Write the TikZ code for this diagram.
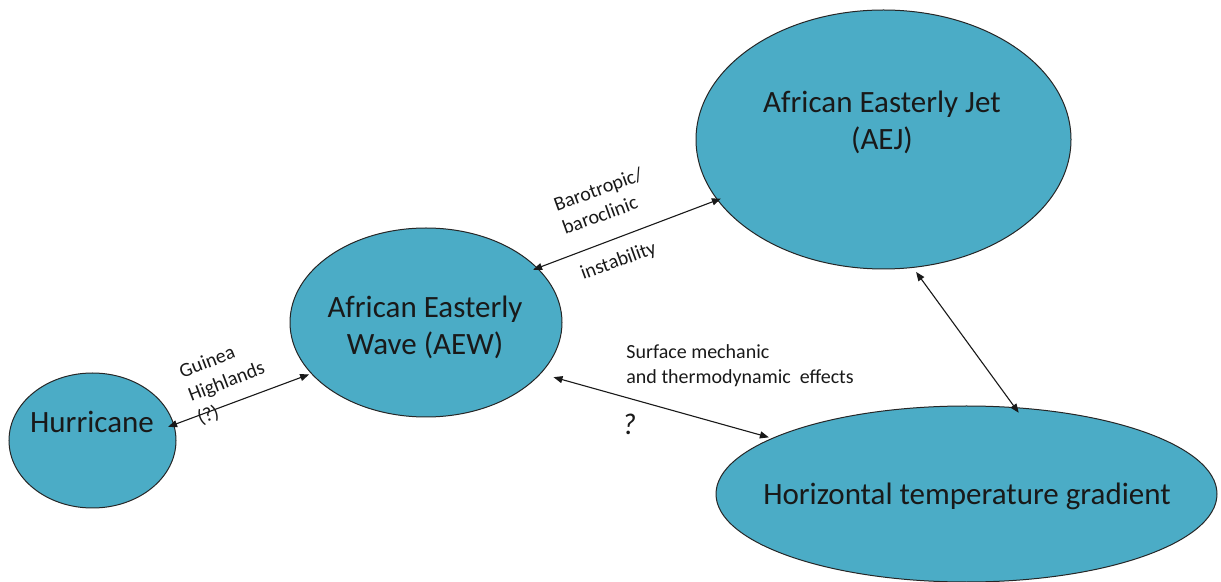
\documentclass[tikz,border=0pt]{standalone}
\usepackage{fontspec}
\setmainfont{Carlito}
\usetikzlibrary{shapes.geometric,arrows.meta}
\definecolor{aqua}{HTML}{4BACC6}
\begin{document}
\begin{tikzpicture}[x=0.5pt,y=-0.5pt,
  blob/.style={ellipse, draw=black!85, line width=0.5pt, fill=aqua, inner sep=0pt},
  big/.style={font=\fontsize{15.5pt}{18.5pt}\selectfont, inner sep=0pt, text=black!90},
  small/.style={font=\fontsize{10pt}{12.5pt}\selectfont, inner sep=0pt, text=black!90},
  conn/.style={draw=black!90, line width=0.55pt, {Triangle[length=4.5pt,width=3.5pt]}-{Triangle[length=4.5pt,width=3.5pt]}}]
\useasboundingbox (0,0) rectangle (1221,582);
% ellipses
\node[blob, minimum width=83.5pt, minimum height=67.5pt] (hur) at (92.5,440.5) {};
\node[blob, minimum width=136pt, minimum height=94.5pt] (aew) at (426,322.5) {};
\node[blob, minimum width=187.5pt, minimum height=129.5pt] (aej) at (883.5,139.5) {};
\node[blob, minimum width=250.5pt, minimum height=88pt] (htg) at (966.5,494) {};
% texts in ellipses (base = baseline of last line)
\node[big, anchor=base] (thur) at (92,433) {Hurricane};
\node[big, anchor=base, align=center] (taew) at (425,355) {African Easterly\\Wave (AEW)};
\node[big, anchor=base, align=center] (taej) at (882,150) {African Easterly Jet\\(AEJ)};
\node[big, anchor=base] (thtg) at (967,505) {Horizontal temperature gradient};
% connectors
\draw[conn, shorten <=-3.25pt, shorten >=1pt] (hur.11.75) -- (aew.204.35);
\draw[conn, shorten <=-2.5pt, shorten >=-2pt] (aew.26.35) -- (aej.200.65);
\draw[conn, shorten <=6.5pt, shorten >=1.5pt] (aew.336) -- (htg.164.25);
\draw[conn, shorten <=2.5pt, shorten >=-3.5pt] (aej.283.4) -- (htg.61.6);
% labels
\node[small, anchor=base west, align=left, rotate=21] (lgui) at (200,425) {Guinea\\Highlands\\(?)};
\node[small, anchor=base west, align=left, rotate=20] (lbar) at (565,235) {Barotropic/\\baroclinic};
\node[small, anchor=base west, rotate=20] (lins) at (583,280) {instability};
\node[small, anchor=base west, align=left] (lsur) at (626,384) {Surface mechanic\\and thermodynamic\ \ effects};
\node[font=\fontsize{15pt}{18pt}\selectfont\itshape, inner sep=0pt, anchor=base, text=black!90] (lq) at (629,435) {?};
\end{tikzpicture}
\end{document}
